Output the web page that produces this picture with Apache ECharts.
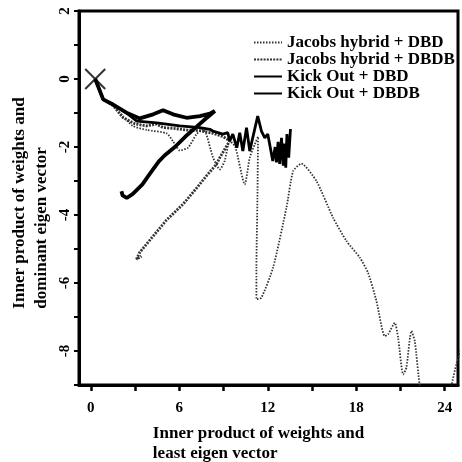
<!DOCTYPE html>
<html>
<head>
<meta charset="utf-8">
<script src="https://cdn.jsdelivr.net/npm/echarts@6/dist/echarts.min.js"></script>
<style>
  html, body { margin: 0; padding: 0; background: #fff; }
  #chart { width: 462px; height: 462px; }
</style>
</head>
<body>
<div id="chart"></div>
<script>
// points, [least eigen, dominant eigen]
var jacobsDbd = [[0.3,0],[0.84,-0.6],[1.5,-0.78],[2.17,-1.09],[2.85,-1.38],[3.8,-1.5],[5.15,-1.6],[5.6,-1.85],
  [6.03,-2.1],[6.6,-2.02],[7.16,-1.63],[7.62,-1.48],[7.84,-1.63],[8.29,-2.31],[8.75,-2.66],[9.08,-2.41],[9.42,-1.82],
  [9.8,-2.0],[10.44,-3.1],[10.78,-2.31],[11.12,-1.92],[11.34,-1.7],[11.3,-3.5],[11.23,-5.55],[11.23,-6.48],[11.57,-6.43],
  [12.36,-5.55],[13.27,-3.78],[13.72,-2.71],[14.28,-2.49],[15.3,-3.0],[16.43,-4.08],[17.33,-4.76],[18.24,-5.25],
  [18.8,-5.7],[19.37,-6.53],[19.93,-7.56],[20.16,-7.51],[20.61,-7.17],[20.84,-7.61],[21.18,-8.69],[21.4,-8.49],
  [21.74,-7.41],[21.97,-7.71],[22.31,-9.03],[22.8,-10],[24.0,-10],[24.45,-9.03],[24.79,-8.39],[25.2,-7.8]];
var jacobsDbdb = [[0.3,0],[0.84,-0.6],[1.5,-0.78],[2.2,-1.14],[3.0,-1.32],[3.77,-1.38],[4.45,-1.33],[4.9,-1.43],
  [5.58,-1.45],[6.5,-1.5],[7.39,-1.52],[8.3,-1.6],[9.0,-1.7],[9.42,-1.82],[8.75,-2.31],[8.52,-2.51],[7.84,-2.85],
  [7.0,-3.3],[6.26,-3.68],[5.13,-4.15],[4.23,-4.62],[3.6,-4.95],[3.32,-5.1],[3.1,-5.3],[3.43,-5.21]];
var kickDbd = [[0.3,0],[0.84,-0.6],[1.51,-0.75],[2.42,-1.0],[3.12,-1.24],[4.47,-1.29],[6.03,-1.38],[7.39,-1.43],
  [8.07,-1.48],[8.27,-1.53],[8.95,-1.62],[9.29,-1.58],[9.42,-1.82],[9.63,-1.62],[9.9,-2.02],[10.1,-1.58],[10.31,-2.12],
  [10.56,-1.43],[10.78,-2.12],[10.98,-1.73],[11.32,-1.09],[11.57,-1.53],[11.8,-1.73],[12.0,-1.62],[12.34,-2.41],
  [12.5,-2.0],[12.59,-2.45],[12.7,-1.85],[12.81,-2.5],[12.93,-1.73],[13.05,-2.55],[13.15,-1.9],[13.22,-2.61],
  [13.3,-1.62],[13.42,-2.31],[13.54,-1.47]];
var kickDbdb = [[0.3,0],[0.84,-0.6],[1.51,-0.75],[2.42,-0.99],[3.32,-1.16],[4.23,-1.04],[4.9,-0.92],[5.58,-1.04],
  [6.49,-1.14],[7.39,-1.09],[8.07,-1.02],[8.41,-0.94],[7.73,-1.19],[7.16,-1.41],[6.4,-1.7],[5.7,-2.0],[5.0,-2.25],
  [4.6,-2.43],[4.0,-2.79],[3.5,-3.1],[2.85,-3.38],[2.44,-3.5],[2.15,-3.42],[2.08,-3.3]];
var startPoint = [[0.3, 0]];

var xTicks = [0, 3, 6, 9, 12, 15, 18, 21, 24];
var xLabels = [0, 6, 12, 18, 24];
var yTicks = [2, 1, 0, -1, -2, -3, -4, -5, -6, -7, -8, -9];
var yLabels = [2, 0, -2, -4, -6, -8];

var serif = "'Liberation Serif', 'DejaVu Serif', serif";
var titleFont = { fontFamily: serif, fontWeight: 'bold', fontSize: 17, color: '#000', align: 'left' };

var myChart = echarts.init(document.getElementById('chart'));
var option = {
  animation: false,
  backgroundColor: '#fff',
  grid: {
    left: 79, right: 4, top: 11, bottom: 77,
    outerBoundsMode: 'none',
    show: true, borderColor: '#000', borderWidth: 3
  },
  legend: {
    orient: 'vertical',
    left: 248,
    top: 29,
    itemWidth: 28,
    itemHeight: 10,
    itemGap: 0,
    itemStyle: { opacity: 0 },
    textStyle: { fontFamily: serif, fontWeight: 'bold', fontSize: 17, color: '#000', lineHeight: 16 },
    data: ['Jacobs hybrid + DBD', 'Jacobs hybrid + DBDB', 'Kick Out + DBD', 'Kick Out + DBDB']
  },
  xAxis: {
    type: 'value',
    min: -0.8,
    max: 24.9,
    name: '{t|Inner product of weights and}\n{t|least eigen vector}',
    nameLocation: 'middle',
    nameGap: 39,
    nameTextStyle: {
      padding: [0, 20, 0, 0],
      rich: { t: Object.assign({ lineHeight: 20 }, titleFont) }
    },
    axisLine: { onZero: false, lineStyle: { color: '#000', width: 3 } },
    axisTick: { customValues: xTicks, length: 6, lineStyle: { color: '#000', width: 2.5 } },
    axisLabel: {
      customValues: xLabels, margin: 16,
      fontFamily: serif, fontWeight: 'bold', fontSize: 15, color: '#000'
    },
    splitLine: { show: false }
  },
  yAxis: {
    type: 'value',
    min: -9,
    max: 2,
    name: '{t|Inner product of weights and}\n{t|dominant eigen vector}',
    nameLocation: 'middle',
    nameGap: 24,
    nameRotate: 90,
    nameTextStyle: {
      padding: [0, 10, 0, 0],
      rich: { t: Object.assign({ lineHeight: 22 }, titleFont) }
    },
    axisLine: { onZero: false, lineStyle: { color: '#000', width: 3 } },
    axisTick: { customValues: yTicks, length: 5, lineStyle: { color: '#000', width: 2 } },
    axisLabel: {
      customValues: yLabels, rotate: 90, margin: 6,
      fontFamily: serif, fontWeight: 'bold', fontSize: 15, color: '#000'
    },
    splitLine: { show: false }
  },
  series: [
    {
      name: 'Jacobs hybrid + DBD',
      type: 'line',
      symbol: 'none',
      smooth: 0.2,
      data: jacobsDbd,
      lineStyle: { color: '#333', width: 1.8, type: [1.5, 1.5] },
      itemStyle: { color: '#333' }
    },
    {
      name: 'Jacobs hybrid + DBDB',
      type: 'line',
      symbol: 'none',
      data: jacobsDbdb,
      lineStyle: { color: '#333', width: 2.8, type: [2, 1.2] },
      itemStyle: { color: '#333' }
    },
    {
      name: 'Kick Out + DBD',
      type: 'line',
      symbol: 'none',
      data: kickDbd,
      lineStyle: { color: '#000', width: 2.8 },
      itemStyle: { color: '#000' }
    },
    {
      name: 'Kick Out + DBDB',
      type: 'line',
      symbol: 'none',
      data: kickDbdb,
      lineStyle: { color: '#000', width: 3.8 },
      itemStyle: { color: '#000' }
    },
    {
      name: 'start',
      type: 'scatter',
      symbol: 'path://M0,0L10,10M10,0L0,10',
      symbolSize: 20,
      data: startPoint,
      itemStyle: { color: 'none', borderColor: '#000', borderWidth: 2 },
      z: 5
    }
  ]
};
myChart.setOption(option);
</script>
</body>
</html>
